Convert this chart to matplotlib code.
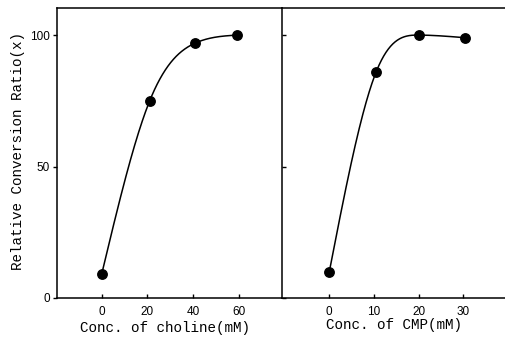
import numpy as np
import matplotlib
matplotlib.use("Agg")
import matplotlib.pyplot as plt

# data
choline_x = [0, 21, 41, 59]
choline_y = [9, 75, 97, 100]
cmp_x = [0, 10.5, 20.2, 30.4]
cmp_y = [10, 86, 100, 99]

left_ticks = [0, 20, 40, 60]
right_ticks = [0, 10, 20, 30]
y_ticks = [0, 50, 100]

ylabel = "Relative Conversion Ratio(x)"
xlabel_left = "Conc. of choline(mM)"
xlabel_right = "Conc. of CMP(mM)"

mono = "Liberation Mono"
sans = "Liberation Sans"

fig = plt.figure(figsize=(5.06, 3.43), dpi=100)
W, H = 506, 343


def fx(px):
    return px / W


def fy(py):
    return 1 - py / H


axL = fig.add_axes([fx(57), fy(298), fx(282) - fx(57), fy(8) - fy(298)])
axR = fig.add_axes([fx(282), fy(298), 1 - fx(282), fy(8) - fy(298)])


def natural_spline(xs, ys, num=300):
    x = np.asarray(xs, float)
    y = np.asarray(ys, float)
    n = len(x)
    h = np.diff(x)
    A = np.zeros((n, n))
    b = np.zeros(n)
    A[0, 0] = 1
    A[-1, -1] = 1
    for i in range(1, n - 1):
        A[i, i - 1] = h[i - 1]
        A[i, i] = 2 * (h[i - 1] + h[i])
        A[i, i + 1] = h[i]
        b[i] = 3 * ((y[i + 1] - y[i]) / h[i] - (y[i] - y[i - 1]) / h[i - 1])
    c = np.linalg.solve(A, b)
    xx = np.linspace(x[0], x[-1], num)
    yy = np.empty_like(xx)
    for k, t in enumerate(xx):
        i = min(np.searchsorted(x, t, side="right") - 1, n - 2)
        dx = t - x[i]
        bi = (y[i + 1] - y[i]) / h[i] - h[i] * (2 * c[i] + c[i + 1]) / 3
        di = (c[i + 1] - c[i]) / (3 * h[i])
        yy[k] = y[i] + bi * dx + c[i] * dx ** 2 + di * dx ** 3
    return xx, yy


for ax, xs, ys, ticks, xl in [
    (axL, choline_x, choline_y, left_ticks, (-19.5, 78.8)),
    (axR, cmp_x, cmp_y, right_ticks, (-10.6, 39.6)),
]:
    xx, yy = natural_spline(xs, ys)
    ax.plot(xx, yy, color="black", lw=1.1)
    ax.plot(xs, ys, "o", color="black", ms=6.8)
    ax.set_xlim(*xl)
    ax.set_ylim(0, 110.3)
    ax.set_xticks(ticks)
    ax.set_xticklabels([str(t) for t in ticks], fontfamily=sans, fontsize=8.5)
    ax.tick_params(axis="x", direction="in", length=3, width=1, pad=6)
    ax.spines["right"].set_visible(False)
    for s in ax.spines.values():
        s.set_linewidth(1.1)

axL.set_yticks(y_ticks)
axL.set_yticklabels([str(t) for t in y_ticks], fontfamily=sans, fontsize=8.5)
axL.tick_params(axis="y", direction="out", length=3, width=1, pad=2)
axR.set_yticks(y_ticks)
axR.set_yticklabels([])
axR.tick_params(axis="y", direction="in", length=3, width=1)

fig.text(fx(18), fy(151), ylabel, rotation=90, ha="center", va="center",
         fontfamily=mono, fontsize=10.3)
fig.text(fx(165), fy(328), xlabel_left, ha="center", va="center",
         fontfamily=mono, fontsize=10.3)
fig.text(fx(394), fy(325), xlabel_right, ha="center", va="center",
         fontfamily=mono, fontsize=10.3)

fig.savefig("out.png", dpi=100)
